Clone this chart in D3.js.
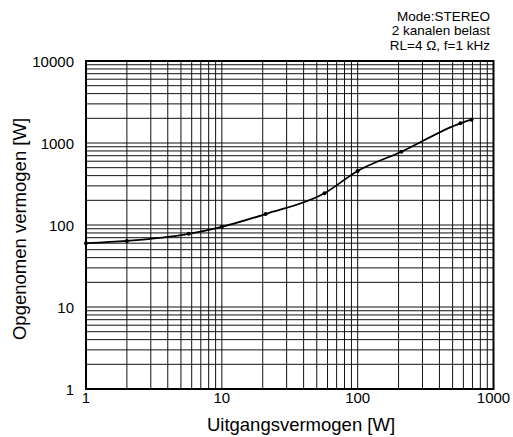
<!DOCTYPE html>
<html>
<head>
<meta charset="utf-8">
<script src="https://cdn.jsdelivr.net/npm/d3@7"></script>
<style>
  body { margin: 0; background: #fff; }
  text { font-family: "Liberation Sans", Arial, Helvetica, sans-serif; fill: #000; }
</style>
</head>
<body>
<div id="chart"></div>
<script>
const WIDTH = 513;
const HEIGHT = 437;
const MARGIN = { top: 61, bottom: 48, right: 19.5, left: 86 };

// uitgangsvermogen [W] vs opgenomen vermogen [W]
const outputPower = [1, 2, 5.7, 10, 21, 57, 100, 210, 570, 690];
const inputPower = [60, 64, 78, 95, 136, 244, 456, 783, 1738, 1924];

const xTickLabels = [1, 10, 100, 1000];
const yTickLabels = [1, 10, 100, 1000, 10000];
const noteLines = ['Mode:STEREO', '2 kanalen belast', 'RL=4 \u03A9, f=1 kHz'];

const svg = d3.select('#chart')
  .append('svg')
  .attr('width', WIDTH)
  .attr('height', HEIGHT);

const x = d3.scaleLog()
  .domain([1, 1000])
  .range([MARGIN.left, WIDTH - MARGIN.right]);

const y = d3.scaleLog()
  .domain([1, 10000])
  .range([HEIGHT - MARGIN.bottom, MARGIN.top]);

// grid
const grid = svg.append('g').attr('stroke', '#111').attr('stroke-width', 1);

grid.selectAll('line.v')
  .data(x.ticks())
  .join('line')
  .attr('class', 'v')
  .attr('x1', d => x(d)).attr('x2', d => x(d))
  .attr('y1', y.range()[0]).attr('y2', y.range()[1]);

grid.selectAll('line.h')
  .data(y.ticks())
  .join('line')
  .attr('class', 'h')
  .attr('y1', d => y(d)).attr('y2', d => y(d))
  .attr('x1', x.range()[0]).attr('x2', x.range()[1]);

// frame
svg.append('rect')
  .attr('x', x.range()[0])
  .attr('y', y.range()[1])
  .attr('width', x.range()[1] - x.range()[0])
  .attr('height', y.range()[0] - y.range()[1])
  .attr('fill', 'none')
  .attr('stroke', '#000')
  .attr('stroke-width', 2);

// tick labels
svg.append('g')
  .selectAll('text')
  .data(xTickLabels)
  .join('text')
  .attr('x', d => x(d))
  .attr('y', y.range()[0] + 14)
  .attr('text-anchor', 'middle')
  .attr('font-size', 15)
  .text(d => d);

svg.append('g')
  .selectAll('text')
  .data(yTickLabels)
  .join('text')
  .attr('x', x.range()[0] - 12)
  .attr('y', d => y(d) + 6)
  .attr('text-anchor', 'end')
  .attr('font-size', 15)
  .text(d => d);

// curve
const points = outputPower.map((d, i) => [d, inputPower[i]]);

const line = d3.line()
  .x(d => x(d[0]))
  .y(d => y(d[1]))
  .curve(d3.curveMonotoneX);

svg.append('path')
  .datum(points)
  .attr('d', line)
  .attr('fill', 'none')
  .attr('stroke', '#000')
  .attr('stroke-width', 1.8);

svg.append('g')
  .selectAll('circle')
  .data(points)
  .join('circle')
  .attr('cx', d => x(d[0]))
  .attr('cy', d => y(d[1]))
  .attr('r', 2)
  .attr('fill', '#000');

// axis titles
svg.append('text')
  .attr('x', 301)
  .attr('y', 431)
  .attr('text-anchor', 'middle')
  .attr('font-size', 18.5)
  .text('Uitgangsvermogen [W]');

svg.append('text')
  .attr('transform', 'translate(26,229) rotate(-90)')
  .attr('text-anchor', 'middle')
  .attr('font-size', 18.5)
  .text('Opgenomen vermogen [W]');

// annotation
svg.append('g')
  .selectAll('text')
  .data(noteLines)
  .join('text')
  .attr('x', 490)
  .attr('y', (_, i) => 21 + i * 14.3)
  .attr('text-anchor', 'end')
  .attr('font-size', 13.5)
  .text(d => d);
</script>
</body>
</html>
